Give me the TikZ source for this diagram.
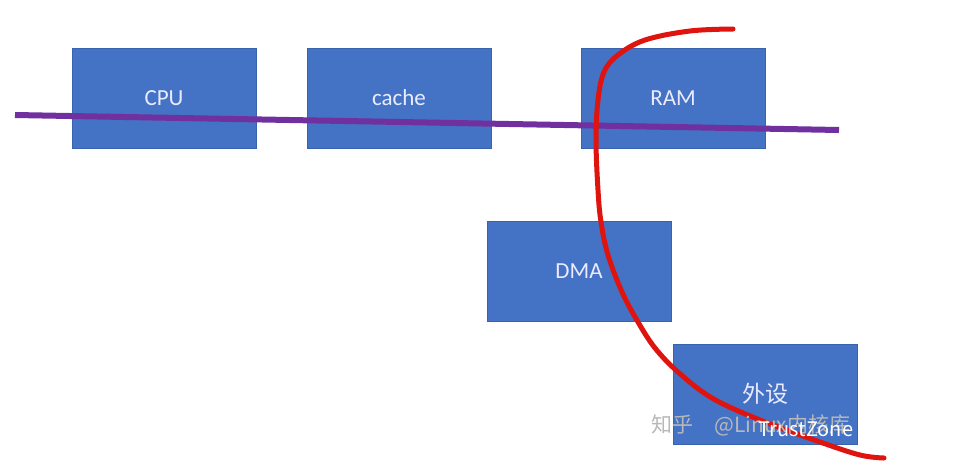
\documentclass[tikz,border=0pt]{standalone}
\usepackage{fontspec}
\setmainfont{Carlito}
\newfontfamily\cjkfont{Noto Sans CJK SC}
\usetikzlibrary{positioning}
\definecolor{boxblue}{HTML}{4472C4}
\definecolor{boxedge}{HTML}{3A63AE}
\definecolor{busline}{HTML}{7030A0}
\definecolor{penred}{HTML}{E0140F}

\begin{document}
\begin{tikzpicture}[
    x=1pt, y=-1pt,
    unit/.style={draw=boxedge, fill=boxblue, text=white!92!blue,
        minimum width=184pt, minimum height=100pt, font=\fontsize{23}{26}\selectfont},
    bus line/.style={busline, line width=6pt},
    pen line/.style={penred, line width=5pt, line cap=round, line join=round},
    mark text/.style={font=\cjkfont\fontsize{21}{24}\selectfont}
    ]
    \useasboundingbox (0,0) rectangle (964,472);
    % boxes
    \node[unit] (cpu) at (164,98) {CPU};
    \node[unit] (cache) at (399,98) {cache};
    \node[unit] (ram) at (673,98) {RAM};
    \node[unit] (dma) at (579,271) {DMA};
    \node[unit] (periph) at (765,394) {\cjkfont 外设};
    % bus line across the top row
    \coordinate (busL) at (15,115);
    \coordinate (busR) at (839,130);
    \draw[bus line] (busL) -- (busR);
    % hand drawn boundary
    \draw[pen line] plot[smooth, tension=0.6] coordinates {
        (733,29) (690,31) (645,40) (618,55) (604,72) (598,100) (596,140)
        (598,190) (601,222) (608,255) (622,292) (638,322) (655,348)
        (678,372) (712,398) (760,420) (820,442) (860,455) (884,458)};
    % watermark
    \node[mark text, text=black!28] (zhihu) at (751,425) {知乎 \hspace{16pt}@Linux内核库};
    \node[mark text, text=white, font=\cjkfont\fontsize{20}{23}\selectfont] (tz) at (806,429) {TrustZone};
\end{tikzpicture}
\end{document}
